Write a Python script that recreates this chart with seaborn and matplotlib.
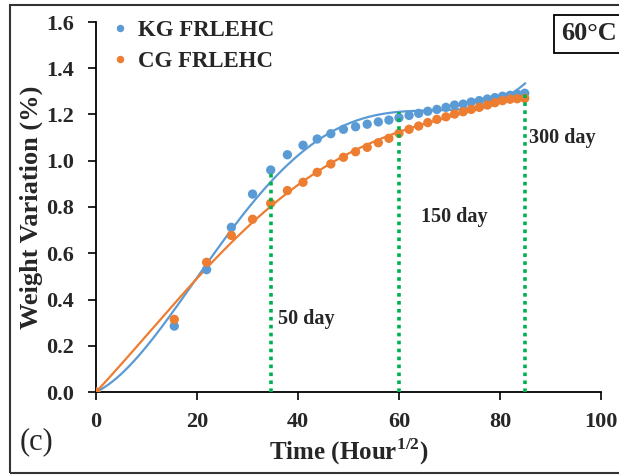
import numpy as np
import pandas as pd
import seaborn as sns
import matplotlib.pyplot as plt
from matplotlib.patches import Rectangle

# Datos
tiempo = [0, 15.5, 21.9, 26.8, 31.0, 34.6, 37.9, 41.0, 43.8, 46.5, 49.0,
          51.4, 53.7, 55.9, 58.0, 60.0, 62.0, 63.9, 65.7, 67.5, 69.3,
          71.0, 72.7, 74.3, 75.9, 77.5, 79.0, 80.5, 82.0, 83.4, 84.9]
kg = [0, 0.285, 0.529, 0.712, 0.856, 0.960, 1.026, 1.067, 1.094, 1.117, 1.136,
      1.147, 1.158, 1.168, 1.176, 1.186, 1.196, 1.205, 1.214, 1.222, 1.231,
      1.241, 1.245, 1.254, 1.260, 1.267, 1.273, 1.279, 1.283, 1.288, 1.292]
cg = [0, 0.314, 0.561, 0.677, 0.747, 0.816, 0.871, 0.907, 0.950, 0.986, 1.015,
      1.039, 1.058, 1.078, 1.097, 1.119, 1.136, 1.150, 1.165, 1.179, 1.190,
      1.202, 1.212, 1.222, 1.231, 1.241, 1.251, 1.260, 1.266, 1.268, 1.270]

dias_x = [34.6, 60.0, 84.9]
dias_top = [0.96, 1.21, 1.30]
dias_txt = ["50 day", "150 day", "300 day"]
dias_pos = [(36.1, 0.314), (64.3, 0.758), (85.8, 1.097)]

azul = "#5B9BD5"
naranja = "#ED7D31"
verde = "#00B050"

df = pd.DataFrame({
    "t": tiempo * 2,
    "w": kg + cg,
    "serie": ["KG FRLEHC"] * len(kg) + ["CG FRLEHC"] * len(cg),
})

sns.set_style("ticks")
plt.rcParams["font.family"] = ["Liberation Serif", "DejaVu Serif"]
plt.rcParams["font.weight"] = "bold"
plt.rcParams["mathtext.fontset"] = "custom"
plt.rcParams["mathtext.bf"] = "Liberation Serif:bold"
plt.rcParams["mathtext.rm"] = "Liberation Serif:bold"

W, H = 619, 475
fig = plt.figure(figsize=(W / 100, H / 100), dpi=100)
ax = fig.add_axes([96 / W, 1 - 392 / H, 505 / W, 370 / H])


# tendencia polinomica de orden 4 con intercepto en cero
def ajuste(x, y, grado=4):
    x = np.asarray(x)
    A = np.column_stack([x ** k for k in range(1, grado + 1)])
    coef = np.linalg.lstsq(A, np.asarray(y), rcond=None)[0]
    return lambda t: sum(c * t ** (k + 1) for k, c in enumerate(coef))


xs = np.linspace(0, 85, 300)
for ys, c in [(kg, azul), (cg, naranja)]:
    f = ajuste(tiempo, ys)
    ax.plot(xs, f(xs), color=c, lw=1.6, zorder=2)

sns.scatterplot(data=df, x="t", y="w", hue="serie",
                palette={"KG FRLEHC": azul, "CG FRLEHC": naranja},
                s=45, edgecolor="none", ax=ax, zorder=3)

# lineas verticales de dias
for xv, yt in zip(dias_x, dias_top):
    ax.plot([xv, xv], [0, yt], color=verde, lw=2.6, ls=(0, (1, 1.2)), zorder=4)
for txt, (px, py) in zip(dias_txt, dias_pos):
    ax.text(px, py, txt, fontsize=14.5, fontweight="bold", va="center", ha="left")

ax.set_xlim(0, 100)
ax.set_ylim(0, 1.6)
ax.set_xticks(range(0, 101, 20))
ax.set_yticks(np.arange(0, 1.61, 0.2))
ax.set_yticklabels([f"{v:.1f}" for v in np.arange(0, 1.61, 0.2)])
ax.tick_params(labelsize=16, length=6, width=1.2, color="black")
ax.tick_params(axis="x", pad=8.5)
ax.tick_params(axis="y", pad=10)
for lab in ax.get_xticklabels() + ax.get_yticklabels():
    lab.set_fontweight("bold")
for s in ["left", "bottom"]:
    ax.spines[s].set_linewidth(1.3)
    ax.spines[s].set_color("black")
sns.despine(ax=ax)

ax.set_xlabel("Time (Hour$^{\\mathbf{1/2}}$)", fontsize=18, fontweight="bold", labelpad=3)
ax.set_ylabel("Weight Variation (%)", fontsize=19, fontweight="bold", labelpad=2)

ax.legend(loc="upper left", bbox_to_anchor=(111 / W, 1 - 20 / H),
          bbox_transform=fig.transFigure, frameon=False, borderpad=0,
          borderaxespad=0, handlelength=0.8, handletextpad=0.38,
          labelspacing=0.42, markerscale=0.8,
          prop={"weight": "bold", "size": 16.5})

fig.text(20 / W, 1 - 442 / H, "(c)", fontsize=22, fontweight="normal",
         va="center", ha="left")
fig.text(561 / W, 1 - 34 / H, "60°C", fontsize=19, fontweight="bold",
         va="center", ha="left",
         bbox=dict(boxstyle="square,pad=0.28", fc="white", ec="black", lw=1.3))

fig.add_artist(Rectangle((10 / W, 2 / H), 1.2, 1 - 7 / H,
                         transform=fig.transFigure, fill=False,
                         ec="#333333", lw=1.5))

fig.savefig("out.png", dpi=100)
